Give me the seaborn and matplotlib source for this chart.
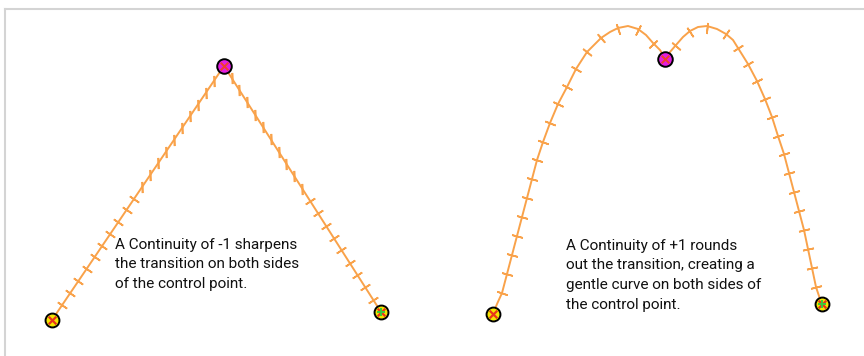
import numpy as np
import pandas as pd
import matplotlib.pyplot as plt
import seaborn as sns

# positions (pixel space, y grows downward)
sharp_path_x = [52, 224, 381]
sharp_path_y = [320, 66, 312]
sharp_tick_x = [62, 70, 78, 87, 95, 102, 110, 118, 127, 134, 142, 150, 158, 166, 174, 182, 190, 198, 206, 214,
                232, 239, 247, 255, 263, 271, 279, 286, 294, 302, 310, 318, 326, 334, 341, 350, 357, 365, 373]
sharp_tick_y = [305, 293, 281, 269, 257, 246, 234, 222, 210, 199, 187, 175, 163, 152, 140, 128, 116, 105, 93, 81,
                78, 90, 102, 115, 127, 139, 152, 164, 176, 189, 201, 213, 226, 238, 250, 263, 275, 287, 300]

round_path_x = [493, 497, 502, 507, 512, 517, 522, 527, 532, 537, 543, 550, 558, 567, 576, 587, 601, 610, 618, 628, 638, 646, 653, 660, 665,
                670, 676, 683, 690, 698, 707, 717, 726, 733, 738, 748, 757, 765, 772, 778, 784, 789, 794, 799, 804, 808, 812, 816, 819, 822]
round_path_y = [314, 304, 293, 274, 255, 236, 217, 198, 179, 160, 142, 123, 104, 87, 69, 52, 38, 32, 28, 26, 29, 35, 43, 50, 58,
                52, 45, 37, 31, 27, 26, 29, 34, 40, 48, 64, 81, 99, 117, 136, 154, 173, 192, 211, 230, 249, 268, 287, 296, 304]
round_tick_x = [502, 507, 512, 517, 522, 527, 532, 537, 543, 550, 558, 567, 576, 587, 601, 618, 638, 653,
                676, 690, 707, 726, 738, 748, 757, 765, 772, 778, 784, 789, 794, 799, 804, 808, 812, 816]
round_tick_y = [293, 274, 255, 236, 217, 198, 179, 160, 142, 123, 104, 87, 69, 52, 38, 29, 30, 44,
                46, 32, 28, 34, 48, 64, 81, 99, 117, 136, 154, 173, 192, 211, 230, 249, 268, 287]

end_x = [52, 381, 493, 822]
end_y = [320, 312, 314, 304]
ctrl_x = [224, 665]
ctrl_y = [66, 59]

label_sharp = "A Continuity of -1 sharpens\nthe transition on both sides\nof the control point."
label_round = "A Continuity of +1 rounds\nout the transition, creating a\ngentle curve on both sides of\nthe control point."

ORANGE = "#f9a24a"

sns.set_style("white")
plt.rcParams['font.family'] = ['Roboto', 'DejaVu Sans']

fig = plt.figure(figsize=(8.64, 3.56), dpi=100)
ax = fig.add_axes([5 / 864, 0, 859 / 864, 347 / 356])
ax.set_xlim(5, 864)
ax.set_ylim(356, 9)

for path_x, path_y in [(sharp_path_x, sharp_path_y), (round_path_x, round_path_y)]:
    df = pd.DataFrame({'x': path_x, 'y': path_y})
    sns.lineplot(data=df, x='x', y='y', sort=False, estimator=None, color=ORANGE, lw=1.4, ax=ax)

# perpendicular frame ticks, angle taken from the local path direction
def draw_ticks(tx, ty, px, py):
    px = np.asarray(px, float)
    py = np.asarray(py, float)
    for x, y in zip(tx, ty):
        d = np.hypot(px - x, py - y)
        i = int(np.argmin(d))
        j0, j1 = max(i - 1, 0), min(i + 1, len(px) - 1)
        dx = px[j1] - px[j0]
        dy = py[j1] - py[j0]
        ang = np.degrees(np.arctan2(-dy, dx))
        ax.plot(x, y, marker=(2, 2, ang), ms=8, mew=1.2, color=ORANGE, ls='none')

draw_ticks(sharp_tick_x, sharp_tick_y, sharp_path_x, sharp_path_y)
draw_ticks(round_tick_x, round_tick_y, round_path_x, round_path_y)

# end points and control points
sns.scatterplot(x=end_x, y=end_y, s=100, color="#f5e600", edgecolor="black", linewidth=1.4, zorder=5, ax=ax)
sns.scatterplot(x=end_x, y=end_y, s=30, marker="x", color="#e8341c", linewidth=1.6, zorder=6, ax=ax)
sns.scatterplot(x=end_x[1::2], y=end_y[1::2], s=30, marker="+", color="#3cc83c", linewidth=1.4, zorder=7, ax=ax)
sns.scatterplot(x=ctrl_x, y=ctrl_y, s=110, color="#e21ee2", edgecolor="black", linewidth=1.4, zorder=5, ax=ax)
sns.scatterplot(x=ctrl_x, y=ctrl_y, s=30, marker="x", color="#f0402a", linewidth=1.4, zorder=6, ax=ax)

ax.text(115, 238, label_sharp, fontsize=11, color="#111111", va='top', ha='left', linespacing=1.5)
ax.text(566, 239, label_round, fontsize=11, color="#111111", va='top', ha='left', linespacing=1.5)

ax.set_xlabel("")
ax.set_ylabel("")
ax.set_xticks([])
ax.set_yticks([])
for side in ['right', 'bottom']:
    ax.spines[side].set_visible(False)
for side in ['top', 'left']:
    ax.spines[side].set_color("#d4d4d4")
    ax.spines[side].set_linewidth(1.5)

fig.savefig("out.png", dpi=100)
